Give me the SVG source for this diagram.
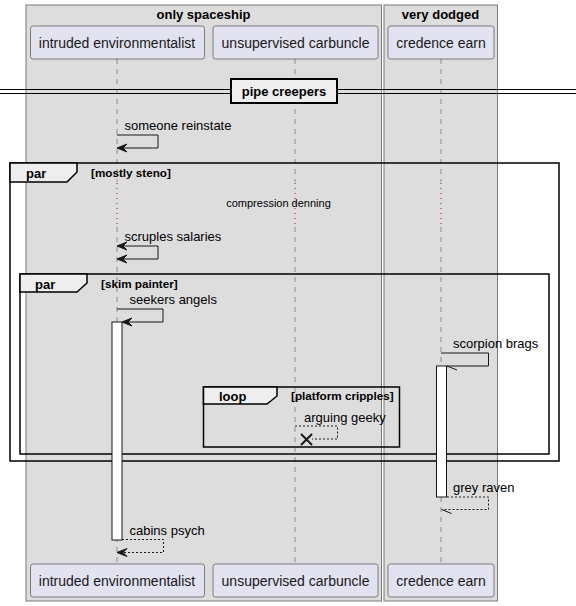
<svg xmlns="http://www.w3.org/2000/svg" width="576" height="606" viewBox="0 0 576 606">
  <defs>
    <style>
      .bx { fill: #DDDDDD; stroke: #7A7A7A; stroke-width: 1; }
      .bxt { font-family: "Liberation Sans", Arial, sans-serif; font-size: 13px; font-weight: bold; fill: #000; text-anchor: middle; }
      .part rect { fill: #E2E2F0; stroke: #181818; stroke-width: 0.5; }
      .part text { font-family: "Liberation Sans", Arial, sans-serif; font-size: 14px; fill: #181818; text-anchor: middle; }
      .life { stroke: #555; stroke-width: 0.6; stroke-dasharray: 5,5; fill: none; }
      .delay { stroke: #A80036; stroke-width: 1; stroke-dasharray: 1,4; fill: none; }
      .msg { stroke: #181818; stroke-width: 1; fill: none; }
      .ret { stroke: #181818; stroke-width: 1; fill: none; stroke-dasharray: 2,2; }
      .head { fill: #181818; stroke: #181818; stroke-width: 1; }
      .lbl { font-family: "Liberation Sans", Arial, sans-serif; font-size: 13px; fill: #000; }
      .small { font-family: "Liberation Sans", Arial, sans-serif; font-size: 11px; fill: #000; }
      .frame { fill: none; stroke: #000; stroke-width: 1.5; }
      .tab { fill: #EEEEEE; stroke: #000; stroke-width: 1.5; }
      .kw { font-family: "Liberation Sans", Arial, sans-serif; font-size: 13px; font-weight: bold; fill: #000; }
      .cond { font-family: "Liberation Sans", Arial, sans-serif; font-size: 11.7px; font-weight: bold; fill: #000; }
      .act { fill: #FFFFFF; stroke: #181818; stroke-width: 1; }
    </style>
  </defs>

  <!-- participant boxes -->
  <g id="box-only-spaceship">
    <rect class="bx" x="26" y="5" width="355.5" height="596"/>
    <text class="bxt" x="203.5" y="19">only spaceship</text>
  </g>
  <g id="box-very-dodged">
    <rect class="bx" x="384" y="5" width="113.5" height="596"/>
    <text class="bxt" x="440.5" y="19">very dodged</text>
  </g>

  <!-- lifelines -->
  <g id="lifelines">
    <line class="life" x1="117" y1="59" x2="117" y2="182"/>
    <line class="life" x1="117" y1="227" x2="117" y2="564"/>
    <line class="life" x1="295" y1="59" x2="295" y2="182"/>
    <line class="life" x1="295" y1="227" x2="295" y2="564"/>
    <line class="life" x1="441" y1="59" x2="441" y2="182"/>
    <line class="life" x1="441" y1="227" x2="441" y2="564"/>
    <line class="delay" x1="117" y1="183" x2="117" y2="224"/>
    <line class="delay" x1="295" y1="183" x2="295" y2="224"/>
    <line class="delay" x1="441" y1="183" x2="441" y2="224"/>
  </g>

  <!-- participants, top and bottom -->
  <g id="intruded-environmentalist" class="part">
    <rect x="30.5" y="26" width="174" height="33" rx="2.5"/>
    <text x="117" y="47.5">intruded environmentalist</text>
    <rect x="30.5" y="564" width="174" height="33" rx="2.5"/>
    <text x="117" y="585.5">intruded environmentalist</text>
  </g>
  <g id="unsupervised-carbuncle" class="part">
    <rect x="213" y="26" width="165" height="33" rx="2.5"/>
    <text x="295.5" y="47.5">unsupervised carbuncle</text>
    <rect x="213" y="564" width="165" height="33" rx="2.5"/>
    <text x="295.5" y="585.5">unsupervised carbuncle</text>
  </g>
  <g id="credence-earn" class="part">
    <rect x="388" y="26" width="106" height="33" rx="2.5"/>
    <text x="441" y="47.5">credence earn</text>
    <rect x="388" y="564" width="106" height="33" rx="2.5"/>
    <text x="441" y="585.5">credence earn</text>
  </g>

  <!-- divider -->
  <g id="divider-pipe-creepers">
    <line x1="0" y1="89.5" x2="576" y2="89.5" stroke="#000" stroke-width="1"/>
    <line x1="0" y1="93.5" x2="576" y2="93.5" stroke="#000" stroke-width="1"/>
    <rect x="231" y="79" width="106" height="24" fill="#EEEEEE" stroke="#000" stroke-width="2"/>
    <text class="kw" x="284" y="96" text-anchor="middle">pipe creepers</text>
  </g>

  <!-- group frames -->
  <g id="par-mostly-steno">
    <rect class="frame" x="10" y="163" width="549" height="298"/>
    <path class="tab" d="M10,163 H77 V172 L67,182 H10 Z"/>
    <text class="kw" x="26" y="178">par</text>
    <text class="cond" x="91" y="177">[mostly steno]</text>
  </g>
  <g id="par-skim-painter">
    <rect class="frame" x="20" y="274" width="529" height="180"/>
    <path class="tab" d="M20,274 H87 V283 L77,292 H20 Z"/>
    <text class="kw" x="35" y="289">par</text>
    <text class="cond" x="101" y="288">[skim painter]</text>
  </g>
  <g id="loop-platform-cripples">
    <rect class="frame" x="203.5" y="387" width="196" height="60"/>
    <path class="tab" d="M203.5,387 H277 V396 L267,404 H203.5 Z"/>
    <text class="kw" x="219" y="401">loop</text>
    <text class="cond" x="291" y="400">[platform cripples]</text>
  </g>

  <!-- activations -->
  <g id="activations">
    <rect class="act" x="112" y="322" width="10" height="218"/>
    <rect class="act" x="436.5" y="366" width="10" height="131"/>
  </g>

  <!-- messages -->
  <g id="connectors">
    <!-- someone reinstate -->
    <polyline class="msg" points="117,135 158,135 158,148 118,148"/>
    <polygon class="head" points="117,148 127,144 123,148 127,152"/>
    <!-- scruples salaries -->
    <polyline class="msg" points="118,246 158,246 158,259 118,259"/>
    <polygon class="head" points="117,246 127,242 123,246 127,250"/>
    <polygon class="head" points="117,259 127,255 123,259 127,263"/>
    <!-- seekers angels -->
    <polyline class="msg" points="117,309 163,309 163,322 123,322"/>
    <polygon class="head" points="122,322 132,318 128,322 132,326"/>
    <!-- scorpion brags -->
    <polyline class="msg" points="441,353 488.5,353 488.5,366 447,366"/>
    <line class="msg" x1="447" y1="366" x2="457" y2="370"/>
    <!-- arguing geeky -->
    <polyline class="ret" points="295,426 337.5,426 337.5,439 312,439"/>
    <line x1="301" y1="434" x2="312" y2="445" stroke="#181818" stroke-width="2"/>
    <line x1="301" y1="445" x2="312" y2="434" stroke="#181818" stroke-width="2"/>
    <!-- grey raven -->
    <polyline class="ret" points="447,497 488.5,497 488.5,509.5 442,509.5"/>
    <line class="msg" x1="441.5" y1="509.5" x2="451.5" y2="513.5"/>
    <!-- cabins psych -->
    <polyline class="ret" points="122,539.5 163.5,539.5 163.5,552.5 118,552.5"/>
    <polygon class="head" points="117,552.5 127,548.5 123,552.5 127,556.5"/>
  </g>

  <!-- labels -->
  <g id="labels">
    <text class="lbl" x="124.5" y="130">someone reinstate</text>
    <text class="small" x="278.5" y="206.5" text-anchor="middle">compression denning</text>
    <text class="lbl" x="124.5" y="241">scruples salaries</text>
    <text class="lbl" x="129.5" y="304">seekers angels</text>
    <text class="lbl" x="453" y="348">scorpion brags</text>
    <text class="lbl" x="304" y="422">arguing geeky</text>
    <text class="lbl" x="453" y="492">grey raven</text>
    <text class="lbl" x="129.5" y="535">cabins psych</text>
  </g>
</svg>
